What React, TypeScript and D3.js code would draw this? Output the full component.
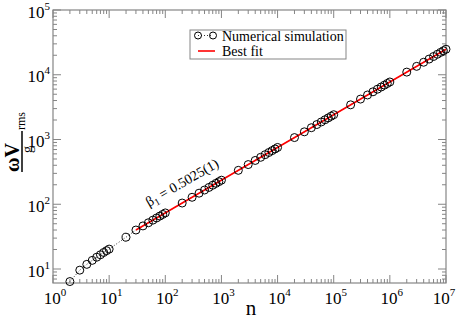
import React, { useEffect, useRef } from 'react';
import * as d3 from 'd3';

// simulation points (n, omega V_rms / g)
const nValues = [
  2, 3, 4, 5, 6, 7, 8, 9, 10,
  20, 30, 40, 50, 60, 70, 80, 90, 100,
  200, 300, 400, 500, 600, 700, 800, 900, 1000,
  2000, 3000, 4000, 5000, 6000, 7000, 8000, 9000, 1e4,
  2e4, 3e4, 4e4, 5e4, 6e4, 7e4, 8e4, 9e4, 1e5,
  2e5, 3e5, 4e5, 5e5, 6e5, 7e5, 8e5, 9e5, 1e6,
  2e6, 3e6, 4e6, 5e6, 6e6, 7e6, 8e6, 9e6, 1e7,
];
const vValues = [
  6.4, 9.6, 11.8, 13.6, 15.2, 16.6, 18.0, 19.2, 20.3,
  31.0, 40.0, 46.3, 51.8, 56.8, 61.4, 65.7, 69.7, 73.5,
  104.4, 128.1, 148.3, 165.9, 181.9, 196.7, 210.4, 223.2, 235.4,
  334, 410, 475, 531, 583, 630, 674, 715, 754,
  1071, 1314, 1521, 1702, 1866, 2018, 2158, 2290, 2415,
  3430, 4209, 4872, 5452, 5977, 6464, 6912, 7335, 7735,
  10986, 13481, 15605, 17463, 19144, 20704, 22139, 23494, 24775,
];
// best fit line end points
const fitN = [30, 1e7];
const fitV = [40, 24775];

const legendLabels = ['Numerical simulation', 'Best fit'];
const fitLabel = ' = 0.5025(1)';

const W = 457;
const H = 320;
const axisColor = '#858585';
const font = '"Liberation Serif", "DejaVu Serif", serif';

const App = () => {
  const ref = useRef<SVGSVGElement>(null);

  useEffect(() => {
    const svg = d3.select(ref.current);
    svg.selectAll('*').remove();

    const x = d3.scaleLog().domain([1, 1e7]).range([53, 446]);
    const y = d3.scaleLog().domain([6.08, 1e5]).range([283, 10]);
    const [x0, x1] = x.range();
    const [y0, y1] = y.range();

    const isMajor = (v: number) => Math.abs(Math.log10(v) - Math.round(Math.log10(v))) < 1e-9;

    // frame
    svg
      .append('rect')
      .attr('x', x0)
      .attr('y', y1)
      .attr('width', x1 - x0)
      .attr('height', y0 - y1)
      .attr('fill', 'none')
      .attr('stroke', axisColor)
      .attr('stroke-width', 1.2);

    // ticks, pointing inward on all four sides
    const ticks = svg.append('g').attr('stroke', axisColor).attr('stroke-width', 1);
    x.ticks().forEach((t) => {
      const len = isMajor(t) ? 8 : 4;
      ticks.append('line').attr('x1', x(t)).attr('x2', x(t)).attr('y1', y0).attr('y2', y0 - len);
      ticks.append('line').attr('x1', x(t)).attr('x2', x(t)).attr('y1', y1).attr('y2', y1 + len);
    });
    y.ticks().forEach((t) => {
      const len = isMajor(t) ? 8 : 4;
      ticks.append('line').attr('y1', y(t)).attr('y2', y(t)).attr('x1', x0).attr('x2', x0 + len);
      ticks.append('line').attr('y1', y(t)).attr('y2', y(t)).attr('x1', x1).attr('x2', x1 - len);
    });

    // tick labels 10^k
    x.ticks().filter(isMajor).forEach((t) => {
      const txt = svg
        .append('text')
        .attr('x', Math.min(x(t) + 2, 444))
        .attr('y', 304)
        .attr('text-anchor', 'middle')
        .style('font-family', font)
        .style('font-size', '17px');
      txt.append('tspan').text('10');
      txt.append('tspan').attr('dy', -8).style('font-size', '11px').text(Math.round(Math.log10(t)));
    });
    y.ticks().filter(isMajor).forEach((t) => {
      const txt = svg
        .append('text')
        .attr('x', 50)
        .attr('y', y(t) + 7.5)
        .attr('text-anchor', 'end')
        .style('font-family', font)
        .style('font-size', '17px');
      txt.append('tspan').text('10');
      txt.append('tspan').attr('dy', -8).style('font-size', '11px').text(Math.round(Math.log10(t)));
    });

    // axis titles
    svg
      .append('text')
      .attr('x', 251)
      .attr('y', 315)
      .attr('text-anchor', 'middle')
      .style('font-family', font)
      .style('font-size', '21px')
      .text('n');

    const yt = svg.append('g').attr('transform', 'translate(22,146) rotate(-90)').style('font-family', font);
    yt.append('text').attr('x', -26).attr('y', -3).style('font-size', '20px').style('font-weight', 'bold').text('ωV');
    yt.append('line').attr('x1', -26).attr('x2', 15).attr('y1', 0).attr('y2', 0).attr('stroke', '#000').attr('stroke-width', 1.5);
    yt.append('text').attr('x', -7).attr('y', 10).style('font-size', '14px').text('g');
    yt.append('text').attr('x', 16).attr('y', 3).style('font-size', '12px').text('rms');

    const pts = nValues.map((n, i) => [n, vValues[i]] as [number, number]);

    // dotted connection
    const line = d3
      .line<[number, number]>()
      .x((d) => x(d[0]))
      .y((d) => y(d[1]));
    svg
      .append('path')
      .attr('d', line(pts))
      .attr('fill', 'none')
      .attr('stroke', '#000')
      .attr('stroke-width', 0.8)
      .attr('stroke-dasharray', '1,2');

    // best fit
    svg
      .append('path')
      .attr('d', line(fitN.map((n, i) => [n, fitV[i]] as [number, number])))
      .attr('fill', 'none')
      .attr('stroke', '#ff0000')
      .attr('stroke-width', 1.6);

    // circles
    svg
      .selectAll('circle.pt')
      .data(pts)
      .enter()
      .append('circle')
      .attr('class', 'pt')
      .attr('cx', (d) => x(d[0]))
      .attr('cy', (d) => y(d[1]))
      .attr('r', 4)
      .attr('fill', 'none')
      .attr('stroke', '#000')
      .attr('stroke-width', 1);

    // fit label along the line
    const lbl = svg
      .append('text')
      .attr('transform', 'translate(149,207) rotate(-30)')
      .style('font-family', font)
      .style('font-size', '14px');
    lbl.append('tspan').text('β');
    lbl.append('tspan').attr('dy', 3).style('font-size', '10px').text('1');
    lbl.append('tspan').attr('dy', -3).text(fitLabel);

    // legend
    const lg = svg.append('g').style('font-family', font).style('font-size', '14px');
    lg.append('rect')
      .attr('x', 190)
      .attr('y', 30)
      .attr('width', 156)
      .attr('height', 29)
      .attr('fill', '#fff')
      .attr('stroke', axisColor)
      .attr('stroke-width', 1);
    lg.append('line')
      .attr('x1', 198)
      .attr('x2', 213)
      .attr('y1', 35.5)
      .attr('y2', 35.5)
      .attr('stroke', '#000')
      .attr('stroke-width', 0.8)
      .attr('stroke-dasharray', '1,2');
    [198, 213].forEach((cx) => {
      lg.append('circle').attr('cx', cx).attr('cy', 35.5).attr('r', 3.5).attr('fill', 'none').attr('stroke', '#000');
    });
    lg.append('line').attr('x1', 198).attr('x2', 215).attr('y1', 51).attr('y2', 51).attr('stroke', '#ff0000').attr('stroke-width', 1.6);
    lg.append('text').attr('x', 222).attr('y', 40.5).text(legendLabels[0]);
    lg.append('text').attr('x', 222).attr('y', 55.5).text(legendLabels[1]);
  }, []);

  return <svg ref={ref} width={W} height={H} style={{ position: 'absolute', left: 0, top: 0, background: '#fff' }} />;
};

export default App;
